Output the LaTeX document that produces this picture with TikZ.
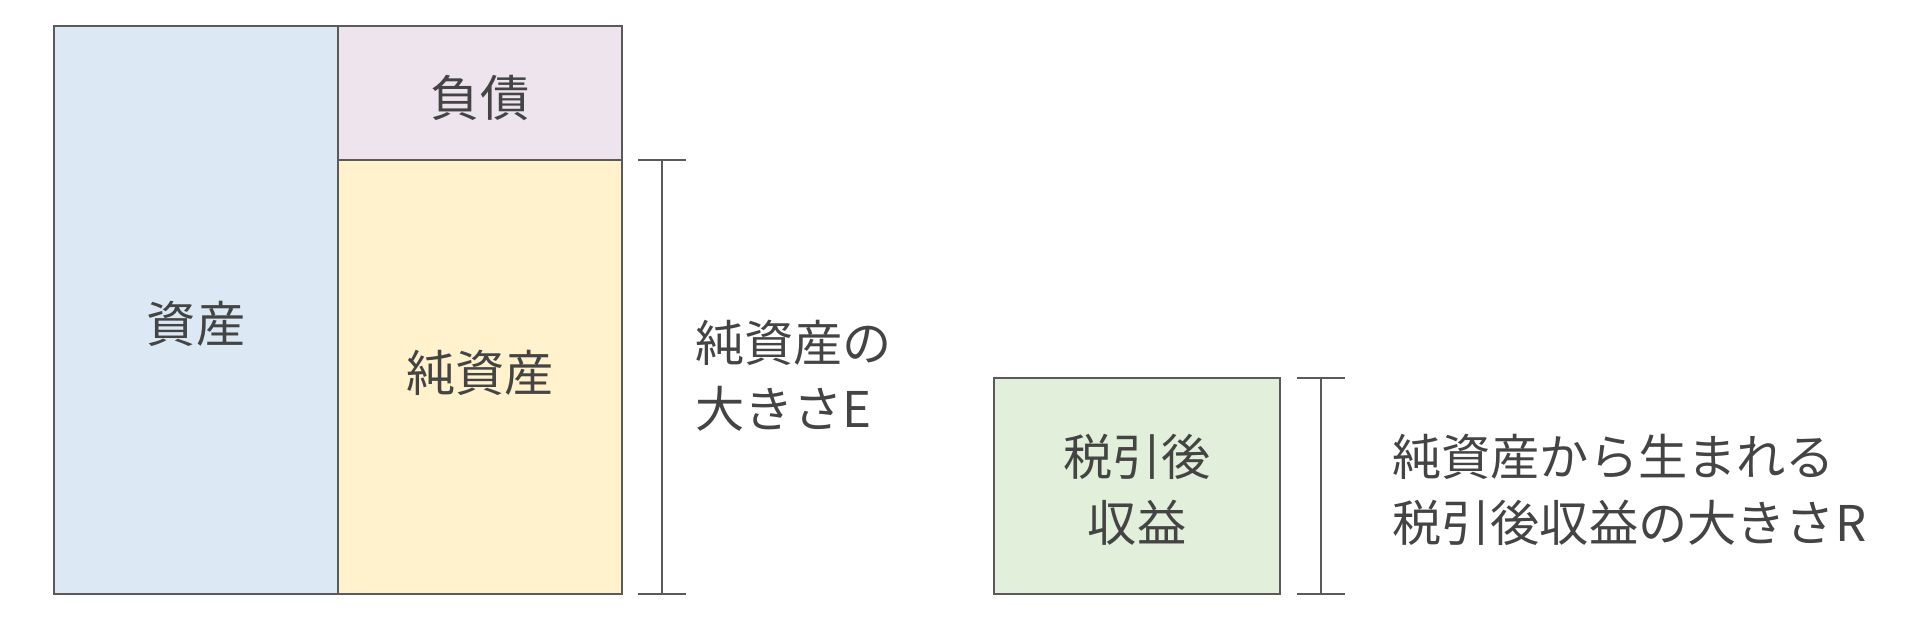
\documentclass[tikz,border=0pt]{standalone}
\usepackage{fontspec}
\usepackage{tikz}
\usetikzlibrary{calc}
\newfontfamily\jpfont{Noto Sans CJK JP}
\definecolor{assetblue}{HTML}{DCE9F5}
\definecolor{debtpink}{HTML}{EDE4EE}
\definecolor{equityyellow}{HTML}{FFF2CC}
\definecolor{incomegreen}{HTML}{E2EFDA}
\definecolor{inkgray}{HTML}{444444}
\definecolor{edgegray}{HTML}{5A5A5A}
\tikzset{
  box/.style={draw=edgegray,line width=1.2pt},
  lbl/.style={text=inkgray,font=\jpfont\fontsize{28}{37.5}\selectfont,inner sep=0pt},
  brace/.style={draw=edgegray,line width=1pt}
}
\begin{document}
\begin{tikzpicture}[x=0.02cm,y=-0.02cm]
  \useasboundingbox (0,0) rectangle (1920,620);

  % balance sheet
  \draw[box,fill=assetblue] (54,26) rectangle (338,594);
  \draw[box,fill=debtpink] (338,26) rectangle (622,160);
  \draw[box,fill=equityyellow] (338,160) rectangle (622,594);
  \node(assets) [lbl] at (196,324) {資産};
  \node(debt) [lbl] at (480,98) {負債};
  \node(equity) [lbl] at (480,373) {純資産};

  % size E
  \coordinate (etop) at (662,160);
  \coordinate (ebot) at (662,594);
  \draw[brace] (etop) -- (ebot);
  \foreach \c in {etop,ebot}
  {
    \draw[brace] ($(\c)+(-24,0)$) -- ($(\c)+(24,0)$);
  }
  \node(esize) [lbl,anchor=west,align=left] at (695,376) {純資産の\\大きさE};

  % income
  \draw[box,fill=incomegreen] (994,378) rectangle (1280,594);
  \node(income) [lbl,align=center] at (1137,490) {税引後\\収益};

  % size R
  \coordinate (rtop) at (1321,378);
  \coordinate (rbot) at (1321,594);
  \draw[brace] (rtop) -- (rbot);
  \foreach \c in {rtop,rbot}
  {
    \draw[brace] ($(\c)+(-24,0)$) -- ($(\c)+(24,0)$);
  }
  \node(rsize) [lbl,anchor=west,align=left] at (1392,490) {純資産から生まれる\\税引後収益の大きさR};
\end{tikzpicture}
\end{document}
